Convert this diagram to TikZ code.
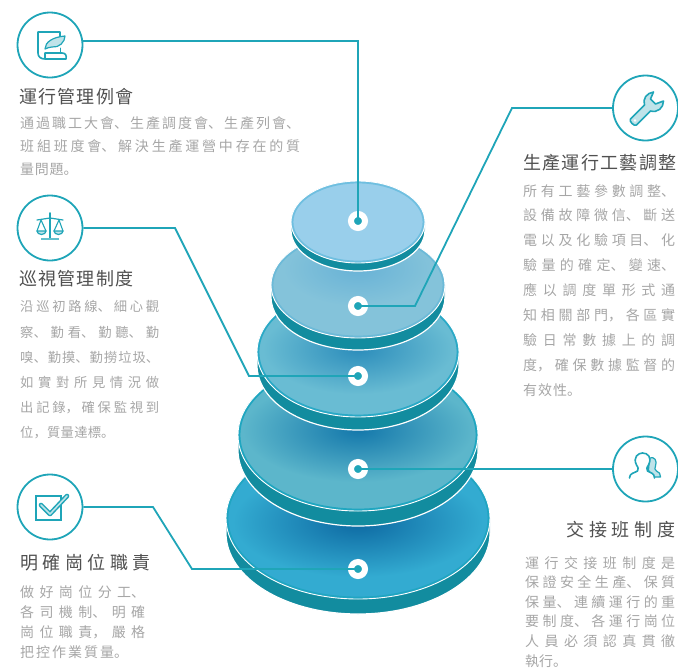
\documentclass[tikz,border=0pt]{standalone}
\usepackage{fontspec}
\usepackage{tikz}
\newfontfamily\cjk{Noto Sans CJK SC}
\definecolor{lineteal}{HTML}{1FA5B8}
\definecolor{sideteal}{HTML}{128C9F}
\definecolor{iconlight}{HTML}{BFE3E9}
\definecolor{titlegray}{HTML}{505050}
\definecolor{bodygray}{HTML}{A6A6A6}
\definecolor{faceA}{HTML}{99CFEB}
\definecolor{rimA}{HTML}{6FBFE0}
\definecolor{faceB}{HTML}{84C3DA}
\definecolor{rimB}{HTML}{6CBAD8}
\definecolor{shadeB}{HTML}{68B2D6}
\definecolor{faceC}{HTML}{69BCD3}
\definecolor{rimC}{HTML}{2AA9C6}
\definecolor{shadeC}{HTML}{2C8DBB}
\definecolor{faceD}{HTML}{5CB6CB}
\definecolor{rimD}{HTML}{1FA6C0}
\definecolor{shadeD}{HTML}{1478AB}
\definecolor{faceE}{HTML}{33ABD1}
\definecolor{rimE}{HTML}{20A5C2}
\definecolor{shadeE}{HTML}{0D69A2}
\tikzset{
	icon/.style={circle,draw=lineteal,fill=white,line width=1.8pt,minimum size=65pt,inner sep=0pt},
	hub/.style={circle,draw=white,fill=lineteal,line width=6pt,minimum size=14pt,inner sep=0pt},
	link/.style={draw=lineteal,line width=1.8pt,line join=miter},
	glyph/.style={draw=lineteal,line width=1.6pt,line join=round,line cap=round},
	titletext/.style={anchor=west,inner sep=0pt,text=titlegray,font=\cjk\fontsize{18}{22}\selectfont\addfontfeature{LetterSpace=#1}},
	bodytext/.style n args={4}{anchor=north west,inner sep=0pt,text width=#1pt,text=bodygray,
		font=\cjk\fontsize{#2}{#3}\selectfont,
		execute at begin node={\parfillskip=0pt plus 1fill\XeTeXlinebreaklocale "zh"\XeTeXlinebreakskip=#4pt plus 1fil\relax}},
}
\begin{document}
\begin{tikzpicture}[x=1pt,y=-1pt]
	\useasboundingbox (0,0) rectangle (678,670);
	% disks
	\foreach \y/\rx/\ry/\d/\face/\rim/\tint/\sy/\sx/\sr in {
		518/132/81/15/faceE/rimE/shadeE/522/125/55,
		435/120/76/15/faceD/rimD/shadeD/430/115/52,
		352/101/65/13/faceC/rimC/shadeC/349/95/45,
		285/87/53/12/faceB/rimB/shadeB/268/75/38,
		222/67/41/8/faceA/rimA/faceA/222/60/30} {
		\draw [white,line width=1.2pt,fill=sideteal] (358-\rx,\y) -- (358-\rx,\y+\d)
			arc [start angle=180,end angle=0,x radius=\rx,y radius=\ry] -- (358+\rx,\y) -- cycle;
		\begin{scope}
			\clip (358,\y) ellipse [x radius=\rx,y radius=\ry];
			\fill [\face] (358,\y) ellipse [x radius=\rx,y radius=\ry];
			\shade [inner color=\tint,outer color=\face] (358,\sy) ellipse [x radius=\sx,y radius=\sr];
			\draw [\rim,line width=2.4pt] (358,\y) ellipse [x radius=\rx-1.2,y radius=\ry-1.2];
		\end{scope}
		\draw [white,line width=.9pt] (358,\y) ellipse [x radius=\rx,y radius=\ry];
	}
	% hubs
	\node [hub] (hubA) at (358,221) {};
	\node [hub] (hubB) at (358,306) {};
	\node [hub] (hubC) at (358,376) {};
	\node [hub] (hubD) at (358,469) {};
	\node [hub] (hubE) at (358,569) {};
	% icons
	\node [icon] (iconA) at (50,45) {};
	\node [icon] (iconB) at (645.5,108) {};
	\node [icon] (iconC) at (50,228) {};
	\node [icon] (iconD) at (645.5,469) {};
	\node [icon] (iconE) at (50,507) {};
	% bends
	\coordinate (bendA) at (358,41.04);
	\coordinate (bendB) at (512,108);
	\coordinate (kneeB) at (415,306);
	\coordinate (bendC) at (175,228);
	\coordinate (kneeC) at (249,376);
	\coordinate (bendE) at (153,507);
	\coordinate (kneeE) at (192,569);
	% links
	\draw [link] (iconA.7) -- (bendA) -- (hubA.center);
	\draw [link] (iconB.west) -- (bendB) -- (kneeB) -- (hubB.center);
	\draw [link] (iconC.east) -- (bendC) -- (kneeC) -- (hubC.center);
	\draw [link] (iconD.west) -- (hubD.center);
	\draw [link] (iconE.east) -- (bendE) -- (kneeE) -- (hubE.center);
	% quill
	\begin{scope}[shift={(iconA.center)}]
		\draw [glyph] (10,-5) -- (10,-13) -- (-12,-13) -- (-12,8) .. controls (-12,12) and (-9,14) .. (-5,14) -- (16,14) .. controls (17,10) and (15,8) .. (12,8) -- (-5,8) -- (-5,14);
		\draw [glyph,line width=1pt] (10,3) -- (10,8);
		\draw [glyph,fill=iconlight,line width=1.2pt] (-5,4) .. controls (-5,-3) and (3,-8) .. (15,-9) .. controls (15,-3) and (9,3) .. (2,2) .. controls (0,2) and (-3,3) .. (-5,4) -- cycle;
	\end{scope}
	% wrench
	\begin{scope}[shift={(iconB.center)}]
		\draw [glyph,fill=iconlight] (-15,11) -- (-1,-3) .. controls (-3,-9) and (1,-15) .. (8,-16) -- (5,-9) -- (10,-4) -- (18,-7) .. controls (18,0) and (12,5) .. (5,3) -- (-9,17) .. controls (-11,19) and (-17,13) .. (-15,11) -- cycle;
		\fill [white] (-10.5,12.5) circle [radius=1.4];
	\end{scope}
	% scales
	\begin{scope}[shift={(iconC.center)}]
		\draw [glyph,line width=1.2pt] (-13,-8) -- (0,-10) -- (13,-8);
		\draw [glyph,line width=1.8pt] (0,-15) -- (0,10);
		\draw [glyph,line width=1.1pt] (-13,3) -- (-9,-8) -- (-4,3);
		\draw [glyph,line width=1.1pt] (13,3) -- (9,-8) -- (4,3);
		\draw [glyph,fill=iconlight,line width=1.2pt] (-13,3) -- (-4,3) arc [start angle=0,end angle=180,x radius=4.5,y radius=3.5] -- cycle;
		\draw [glyph,fill=iconlight,line width=1.2pt] (13,3) -- (4,3) arc [start angle=180,end angle=0,x radius=4.5,y radius=3.5] -- cycle;
		\draw [glyph,line width=2.4pt,line cap=butt,draw=lineteal!70] (-9,11) -- (9,11);
	\end{scope}
	% people
	\begin{scope}[shift={(iconD.center)}]
		\draw [glyph,fill=iconlight,line width=1.2pt] (4,-11) .. controls (9,-13) and (12,-8) .. (10,-3) .. controls (9,-1) and (9,1) .. (11,2) .. controls (14,3) and (15,5) .. (15,8) -- (8,8) .. controls (7,4) and (3,3) .. (3,1) -- cycle;
		\draw [glyph,fill=white] (-16,9) .. controls (-16,4) and (-11,4) .. (-8,2) .. controls (-7,0) and (-7,-1) .. (-9,-4) .. controls (-13,-12) and (-7,-16) .. (-3,-16) .. controls (2,-16) and (7,-12) .. (3,-4) .. controls (1,-1) and (1,0) .. (2,2) .. controls (5,4) and (9,4) .. (9,9);
	\end{scope}
	% check
	\begin{scope}[shift={(iconE.center)}]
		\draw [glyph,line width=1.3pt,line cap=butt,line join=miter] (-14,-11) rectangle (11,13);
		\draw [lineteal,line width=4.6pt,line join=round,line cap=round] (-9,-2) -- (0,7) -- (17,-11);
		\draw [iconlight,line width=1.6pt,line join=round,line cap=round] (-9,-2) -- (0,7) -- (17,-11);
	\end{scope}
	% text
	\node [titletext=7] (titleA) at (19,97) {運行管理例會};
	\node [bodytext={280}{14}{23.2}{.7}] (textA) at (20,116) {通過職工大會、生產調度會、生產列會、\break 班組班度會、解決生產運營中存在的質\break 量問題。};
	\node [titletext=7.5] (titleB) at (523,163) {生產運行工藝調整};
	\node [bodytext={152}{14}{24.9}{1}] (textB) at (523,184) {所有工藝參數調整、\break 設備故障微信、斷送\break 電以及化驗項目、化\break 驗量的確定、變速、\break 應以調度單形式通\break 知相關部門，各區實\break 驗日常數據上的調\break 度，確保數據監督的\break 有效性。};
	\node [titletext=7] (titleC) at (19,279) {巡視管理制度};
	\node [bodytext={139}{13.3}{25.2}{.3}] (textC) at (20,300.5) {沿巡初路線、細心觀\break 察、勤看、勤聽、勤\break 嗅、勤摸、勤撈垃圾、\break 如實對所見情況做\break 出記錄，確保監視到\break 位，質量達標。};
	\node [titletext=27] (titleD) at (566,530) {交接班制度};
	\node [bodytext={150}{14}{19.6}{0}] (textD) at (525,556) {運行交接班制度是\break 保證安全生產、保質\break 保量、連續運行的重\break 要制度、各運行崗位\break 人員必須認真貫徹\break 執行。};
	\node [titletext=25] (titleE) at (20,563) {明確崗位職責};
	\node [bodytext={125}{14}{20}{2}] (textE) at (20,585) {做好崗位分工、\break 各司機制、明確\break 崗位職責，嚴格\break 把控作業質量。};
\end{tikzpicture}
\end{document}
